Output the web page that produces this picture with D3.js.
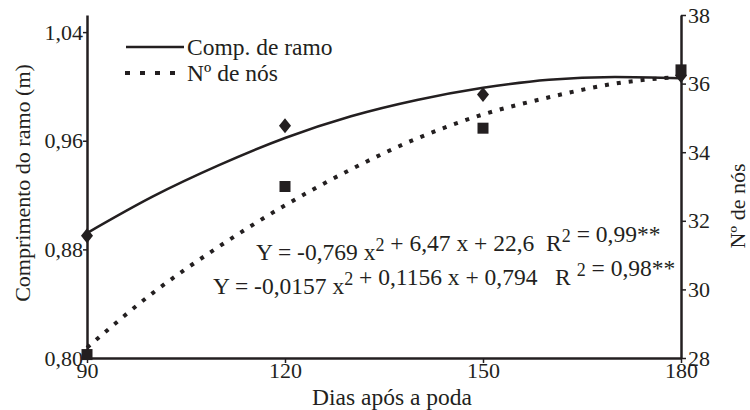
<!DOCTYPE html>
<html>
<head>
<meta charset="utf-8">
<script src="https://cdn.jsdelivr.net/npm/d3@7"></script>
<style>
  body { margin: 0; background: #fff; }
</style>
</head>
<body>
<div id="chart"></div>
<script>
// observed points
const days = [90, 120, 150, 180];
const comprimento = [0.890, 0.971, 0.994, 1.008];
const nos = [28.1, 33.0, 34.7, 36.4];

// trend lines, every 10 days
const trendDays = [90, 100, 110, 120, 130, 140, 150, 160, 170, 180];
const trendComprimento = [0.892, 0.919, 0.942, 0.962, 0.978, 0.990, 0.999, 1.005, 1.007, 1.006];
const trendNos = [28.3, 29.9, 31.25, 32.45, 33.5, 34.4, 35.1, 35.6, 36.0, 36.2];

const xTicks = [90, 120, 150, 180];
const yLeftTicks = [0.80, 0.88, 0.96, 1.04];
const yRightTicks = [28, 30, 32, 34, 36, 38];

const totalWidth = 750, totalHeight = 410;
const margin = { top: 15, left: 87, right: 69, bottom: 52 };
const ink = "#231f20";
const serif = '"Liberation Serif", "Times New Roman", serif';
const tickSize = 22;   // tick labels, y titles
const textSize = 23.5; // legend, equations, x title

const svg = d3.select("#chart")
  .append("svg")
  .attr("width", totalWidth)
  .attr("height", totalHeight)
  .style("font-family", serif);

// scales
const xScale = d3.scaleLinear()
  .domain([90, 180])
  .range([margin.left, totalWidth - margin.right]);

const yLeft = d3.scaleLinear()
  .domain([0.80, 1.0526])
  .range([totalHeight - margin.bottom, margin.top]);

const yRight = d3.scaleLinear()
  .domain([28, 38])
  .range([totalHeight - margin.bottom, margin.top]);

const comma = (fmt) => (d) => d3.format(fmt)(d).replace(".", ",");

function styleAxis(g) {
  g.attr("font-size", tickSize).attr("font-family", serif);
  g.select(".domain").attr("stroke", ink).attr("stroke-width", 2.5);
  g.selectAll(".tick line").attr("stroke", ink).attr("stroke-width", 1.5);
  g.selectAll(".tick text").attr("fill", ink).style("font-family", serif);
}

// bottom axis
svg.append("g")
  .attr("transform", `translate(0,${totalHeight - margin.bottom})`)
  .call(d3.axisBottom(xScale).tickValues(xTicks).tickSize(5).tickSizeOuter(0).tickPadding(-1))
  .call(styleAxis);

// left axis
svg.append("g")
  .attr("transform", `translate(${margin.left},0)`)
  .call(d3.axisLeft(yLeft).tickValues(yLeftTicks).tickFormat(comma(".2f")).tickSize(4).tickSizeOuter(0).tickPadding(0))
  .call(styleAxis);

// right axis
svg.append("g")
  .attr("transform", `translate(${totalWidth - margin.right},0)`)
  .call(d3.axisRight(yRight).tickValues(yRightTicks).tickSize(5).tickSizeOuter(0).tickPadding(2))
  .call(styleAxis);

// trend lines
const lineLeft = d3.line()
  .x((d, i) => xScale(trendDays[i]))
  .y(d => yLeft(d))
  .curve(d3.curveMonotoneX);

const lineRight = d3.line()
  .x((d, i) => xScale(trendDays[i]))
  .y(d => yRight(d))
  .curve(d3.curveMonotoneX);

svg.append("path")
  .attr("fill", "none")
  .attr("stroke", ink)
  .attr("stroke-width", 2.5)
  .attr("d", lineLeft(trendComprimento));

svg.append("path")
  .attr("fill", "none")
  .attr("stroke", ink)
  .attr("stroke-width", 4)
  .attr("stroke-dasharray", "4,8")
  .attr("d", lineRight(trendNos));

// markers
const diamond = d3.symbol().type(d3.symbolDiamond).size(64);
svg.selectAll(".dia")
  .data(comprimento)
  .enter()
  .append("path")
  .attr("d", diamond)
  .attr("transform", (d, i) => `translate(${xScale(days[i])},${yLeft(d)}) scale(1.4,1)`)
  .attr("fill", ink);

svg.selectAll(".sq")
  .data(nos)
  .enter()
  .append("rect")
  .attr("x", (d, i) => xScale(days[i]) - 5.5)
  .attr("y", d => yRight(d) - 5.5)
  .attr("width", 11)
  .attr("height", 11)
  .attr("fill", ink);

// text helper, always serif
function label(x, y, str, size) {
  return svg.append("text")
    .attr("x", x).attr("y", y)
    .attr("font-size", size || textSize)
    .attr("fill", ink)
    .style("font-family", serif)
    .text(str);
}

// legend
svg.append("line")
  .attr("x1", 126).attr("x2", 184).attr("y1", 47).attr("y2", 47)
  .attr("stroke", ink).attr("stroke-width", 2.5);
label(187, 55, "Comp. de ramo");
svg.append("line")
  .attr("x1", 125).attr("x2", 185).attr("y1", 73).attr("y2", 73)
  .attr("stroke", ink).attr("stroke-width", 4).attr("stroke-dasharray", "5,10");
label(187, 81, "Nº de nós");

// equations
function equation(x, y, parts) {
  const t = label(x, y, null).style("white-space", "pre");
  parts.forEach(p => {
    if (p.sup) {
      t.append("tspan").attr("dy", -9).attr("font-size", 18).text(p.sup);
      t.append("tspan").attr("dy", 9).text("");
    } else {
      t.append("tspan").text(p.t);
    }
  });
}

equation(256, 260, [
  { t: "Y = -0,769 x" }, { sup: "2" }, { t: " + 6,47 x + 22,6  R" }, { sup: "2" }, { t: " = 0,99**" }
]);
equation(213, 294, [
  { t: "Y = -0,0157 x" }, { sup: "2" }, { t: " + 0,1156 x + 0,794   R " }, { sup: "2" }, { t: " = 0,98**" }
]);

// axis titles
label(0, 0, "Comprimento do ramo (m)", tickSize)
  .attr("transform", "translate(30,183) rotate(-90)")
  .attr("text-anchor", "middle");

label(0, 0, "Nº de nós", tickSize)
  .attr("transform", "translate(745,206) rotate(-90)")
  .attr("text-anchor", "middle");

label(392, 405, "Dias após a poda")
  .attr("text-anchor", "middle");
</script>
</body>
</html>
